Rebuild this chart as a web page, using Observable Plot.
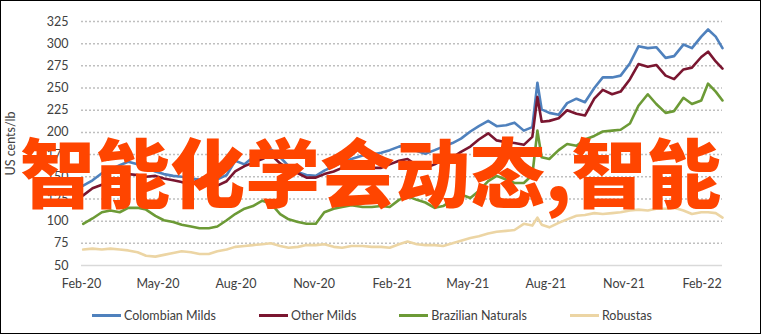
<!DOCTYPE html>
<html><head><meta charset="utf-8">
<script src="https://cdn.jsdelivr.net/npm/d3@7"></script>
<script src="https://cdn.jsdelivr.net/npm/@observablehq/plot@0.6"></script>
<style>
html,body{margin:0;padding:0;background:#fff;}
#frame{position:relative;width:761px;height:334px;box-sizing:border-box;border:1px solid #000;overflow:hidden;font-family:Lato,sans-serif;background:#fff;}
#chart{position:absolute;left:0;top:0;}
#legend{position:absolute;left:91px;top:305px;display:flex;gap:43px;font-size:12.5px;color:#404040;align-items:center;height:18px;}
.item{display:flex;align-items:center;}
.sw{width:29px;height:3px;margin-right:3px;}
#overlay{position:absolute;left:19px;top:131px;font-family:"Noto Sans CJK SC",sans-serif;font-weight:900;font-size:75px;line-height:1;color:#ff4500;white-space:nowrap;}
</style></head>
<body><div id="frame"><div id="chart"></div><div id="overlay"></div><div id="legend"></div></div>
<script>
const overlayText = "智能化学会动态,智能";
const seriesNames = ["Colombian Milds", "Other Milds", "Brazilian Naturals", "Robustas"];
const seriesColors = ["#4f81bd", "#7a1630", "#6c9a36", "#ecd5a4"];
const yTicks = [50, 75, 100, 125, 150, 175, 200, 225, 250, 275, 300, 325];
const xTicks = ["2020-02-01","2020-05-01","2020-08-01","2020-11-01","2021-02-01","2021-05-01","2021-08-01","2021-11-01","2022-02-01"];
const dates = [
"2020-02-03","2020-02-14","2020-02-25","2020-03-06","2020-03-17","2020-03-27","2020-04-07","2020-04-17","2020-04-28","2020-05-08",
"2020-05-19","2020-05-29","2020-06-09","2020-06-19","2020-06-30","2020-07-10","2020-07-21","2020-07-31","2020-08-11","2020-08-21",
"2020-09-01","2020-09-11","2020-09-22","2020-10-02","2020-10-13","2020-10-23","2020-11-03","2020-11-13","2020-11-24","2020-12-04",
"2020-12-15","2020-12-28","2021-01-08","2021-01-19","2021-01-29","2021-02-09","2021-02-19","2021-03-02","2021-03-12","2021-03-23",
"2021-04-02","2021-04-13","2021-04-23","2021-05-04","2021-05-14","2021-05-25","2021-06-04","2021-06-15","2021-06-25","2021-07-06",
"2021-07-16","2021-07-22","2021-07-27","2021-08-05","2021-08-16","2021-08-26","2021-09-06","2021-09-16","2021-09-27","2021-10-07",
"2021-10-18","2021-10-28","2021-11-08","2021-11-18","2021-11-29","2021-12-09","2021-12-20","2021-12-30","2022-01-10","2022-01-20",
"2022-01-31","2022-02-08","2022-02-17","2022-02-25"];
const colombianMilds = [140,146,154,158,163,167,164,160,156,153,
151,150,148,147,146,147,152,168,164,172,
180,181,172,162,155,152,151,157,162,166,
170,174,175,177,180,184,186,179,176,180,
184,188,193,201,207,213,207,208,211,202,
206,256,226,222,220,233,238,234,250,262,
262,264,278,297,295,296,284,286,299,295,
308,316,308,295];
const otherMilds = [129,137,141,144,148,153,152,150,151,148,
146,144,143,146,144,140,145,156,162,166,
170,175,165,159,154,149,149,153,156,160,
163,161,160,160,164,168,170,163,160,164,
169,172,178,184,192,199,191,189,188,186,
195,240,212,213,216,225,221,219,238,248,
243,246,260,277,274,276,264,260,271,273,
285,291,280,272];
const brazilianNaturals = [97,103,110,112,110,115,115,113,106,101,
99,96,94,92,92,94,101,108,114,117,
123,120,108,102,99,97,97,110,114,116,
118,116,116,117,116,124,128,124,121,115,
117,124,130,126,134,145,151,147,143,143,
152,202,172,170,180,187,185,192,196,201,
202,203,210,230,243,232,222,224,239,232,
236,255,246,236];
const robustas = [68,69,68,69,68,67,65,61,60,62,
64,66,65,63,63,66,68,71,72,73,
74,75,72,70,71,73,73,74,71,70,
72,72,71,71,70,74,77,74,73,73,
72,75,78,81,83,86,88,89,90,97,
95,104,96,93,98,102,106,107,109,108,
109,110,112,113,112,114,114,115,112,108,
110,110,109,104];

const seriesValues = [colombianMilds, otherMilds, brazilianNaturals, robustas];
const rows = [];
seriesNames.forEach((name, i) => {
  dates.forEach((d, j) => rows.push({series: name, date: new Date(d), value: seriesValues[i][j]}));
});

const chart = Plot.plot({
  width: 759, height: 300,
  marginLeft: 80, marginRight: 38, marginTop: 20, marginBottom: 36,
  style: {fontFamily: "Lato, sans-serif", fontSize: "12.5px", color: "#404040", background: "transparent", overflow: "visible"},
  x: {type: "utc", domain: [new Date("2020-02-01"), new Date("2022-02-25")], ticks: xTicks.map(d => new Date(d)), tickFormat: d3.utcFormat("%b-%y"), tickSize: 0, tickPadding: 14, label: null},
  y: {domain: [50, 325], ticks: yTicks, tickSize: 0, tickPadding: 13, label: "US cents/lb", labelAnchor: "center", labelArrow: "none", labelOffset: 75},
  color: {domain: seriesNames, range: seriesColors},
  marks: [
    Plot.ruleY(yTicks.filter(d => d > 50), {stroke: "#bfbfbf", strokeDasharray: "2,2", strokeWidth: 1.5}),
    Plot.ruleY([50], {stroke: "#d9d9d9", strokeWidth: 1.5}),
    Plot.line(rows, {x: "date", y: "value", z: "series", stroke: "series", strokeWidth: 2.6})
  ]
});
document.getElementById("chart").appendChild(chart);
document.getElementById("overlay").textContent = overlayText;

const legend = document.getElementById("legend");
seriesNames.forEach((name, i) => {
  const item = document.createElement("div");
  item.className = "item";
  const sw = document.createElement("span");
  sw.className = "sw";
  sw.style.background = seriesColors[i];
  const t = document.createElement("span");
  t.textContent = name;
  item.appendChild(sw); item.appendChild(t);
  legend.appendChild(item);
});
</script>
</body></html>
